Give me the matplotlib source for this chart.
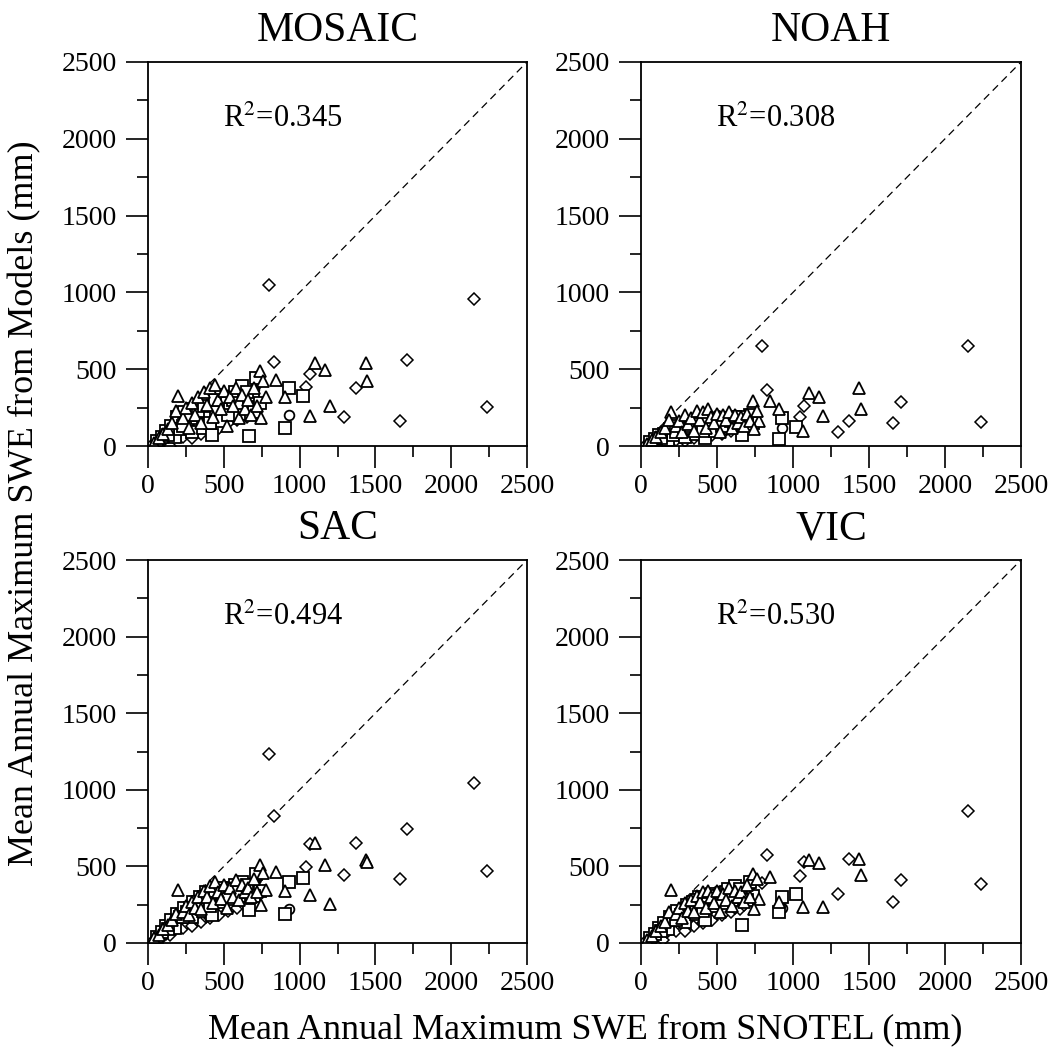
import matplotlib
matplotlib.use("Agg")
import matplotlib.pyplot as plt

plt.rcParams['font.family'] = ['Liberation Serif', 'DejaVu Serif']
plt.rcParams['mathtext.fontset'] = 'stix'

models = ['MOSAIC', 'NOAH', 'SAC', 'VIC']
r2_values = ['0.345', '0.308', '0.494', '0.530']

# SNOTEL mean annual max SWE (mm), one entry per station, grouped by marker
diamond_x = [796, 831, 1708, 1660, 2150, 2235, 1370, 1293, 1070, 1045,
             30, 80, 120, 145, 170, 200, 230, 260, 290, 320, 350, 380, 410, 440, 470, 500,
             530, 560, 590, 620, 650, 680]
triangle_x = [1104, 1170, 1436, 1447, 1199, 1066, 847, 906, 776, 737, 200,
              40, 70, 100, 130, 160, 185, 230, 250, 270, 290, 310, 330, 350, 370, 390, 410,
              430, 440, 460, 480, 500, 520, 540, 560, 580, 600, 620, 640, 660, 680, 700, 720,
              745, 760]
square_x = [906, 664, 1022, 928,
            60, 90, 120, 150, 175, 190, 210, 240, 260, 290, 300, 320, 345, 360, 380, 400,
            420, 450, 470, 490, 510, 540, 560, 575, 600, 620, 630, 660, 690, 715, 740,
            130, 230, 280, 330, 370, 410, 440, 530, 590, 650, 700]
circle_x = [928, 110, 160, 210, 250, 290, 330, 360, 400, 440, 480, 520, 560, 600, 640, 680, 715,
            140, 190, 230, 270, 310, 345, 380, 420, 460, 500, 540, 580, 620, 660, 700]

# model values (mm), same station order as above
diamond_y = {
    'MOSAIC': [1050, 549, 560, 161, 955, 256, 378, 187, 470, 382,
               10, 30, 50, 2, 70, 90, 60, 100, 50, 120, 80, 140, 100, 160, 120, 190,
               150, 210, 170, 240, 190, 260],
    'NOAH': [653, 365, 289, 148, 651, 158, 165, 89, 262, 187,
             5, 20, 30, 10, 40, 50, 40, 60, 30, 70, 50, 80, 60, 90, 70, 100,
             80, 110, 100, 120, 110, 130],
    'SAC': [1231, 830, 741, 421, 1043, 470, 656, 447, 645, 496,
            15, 40, 60, 50, 90, 110, 100, 130, 110, 150, 140, 170, 160, 190, 180, 220,
            210, 240, 230, 260, 250, 280],
    'VIC': [394, 573, 410, 268, 862, 384, 551, 323, 529, 436,
            10, 30, 50, 20, 70, 90, 80, 110, 80, 130, 110, 150, 130, 170, 150, 190,
            180, 210, 200, 230, 220, 250],
}
triangle_y = {
    'MOSAIC': [538, 495, 538, 425, 262, 197, 430, 317, 321, 490, 327,
               20, 50, 80, 110, 150, 230, 180, 250, 120, 280, 200, 320, 150, 350, 270, 380,
               190, 400, 300, 240, 360, 130, 320, 260, 380, 180, 330, 240, 300, 200, 380, 260,
               180, 420],
    'NOAH': [343, 321, 376, 241, 193, 100, 295, 241, 165, 295, 223,
             15, 40, 60, 90, 120, 170, 130, 160, 90, 200, 140, 180, 100, 230, 170, 220,
             120, 240, 190, 150, 210, 90, 200, 170, 220, 120, 200, 150, 190, 130, 210, 160,
             110, 230],
    'SAC': [650, 508, 540, 530, 253, 312, 464, 338, 344, 508, 344,
            30, 55, 90, 120, 150, 190, 200, 240, 180, 270, 230, 300, 220, 340, 300, 370,
            260, 400, 330, 290, 380, 230, 360, 300, 410, 280, 380, 330, 360, 300, 420, 330,
            250, 460],
    'VIC': [545, 519, 551, 442, 235, 235, 431, 268, 290, 453, 344,
            20, 45, 80, 110, 140, 200, 190, 230, 160, 260, 210, 280, 200, 310, 270, 330,
            230, 340, 300, 260, 340, 200, 320, 280, 360, 240, 340, 300, 330, 270, 380, 300,
            220, 420],
}
square_y = {
    'MOSAIC': [119, 63, 323, 380,
               30, 60, 100, 130, 60, 190, 110, 220, 160, 90, 240, 180, 270, 120, 300, 220,
               70, 230, 330, 160, 280, 240, 300, 350, 210, 390, 300, 250, 330, 440, 280,
               70, 130, 200, 230, 260, 150, 300, 200, 280, 350, 220],
    'NOAH': [46, 72, 122, 180,
             25, 45, 70, 80, 40, 110, 70, 130, 100, 60, 130, 110, 150, 80, 160, 140,
             50, 150, 170, 100, 160, 150, 170, 180, 130, 190, 170, 150, 180, 200, 150,
             50, 90, 120, 130, 140, 100, 170, 130, 160, 190, 140],
    'SAC': [192, 218, 425, 398,
            40, 70, 110, 150, 100, 190, 170, 230, 200, 170, 270, 240, 300, 210, 330, 290,
            180, 320, 360, 270, 340, 320, 360, 380, 310, 400, 350, 330, 370, 450, 340,
            90, 170, 230, 270, 300, 240, 340, 290, 330, 380, 310],
    'VIC': [202, 120, 323, 300,
            35, 60, 100, 130, 90, 170, 150, 210, 180, 140, 250, 210, 270, 190, 300, 260,
            150, 290, 320, 240, 310, 290, 330, 350, 280, 370, 320, 300, 340, 400, 310,
            80, 150, 210, 240, 280, 210, 310, 260, 300, 350, 280],
}
circle_y = {
    'MOSAIC': [202, 80, 120, 160, 200, 240, 140, 290, 250, 330, 200, 300, 350, 250, 340, 300, 404,
               100, 170, 150, 220, 260, 180, 320, 230, 280, 340, 260, 310, 360, 280, 370],
    'NOAH': [120, 60, 80, 100, 120, 140, 90, 170, 150, 180, 130, 170, 180, 150, 180, 160, 190,
             70, 110, 100, 130, 150, 110, 190, 140, 170, 200, 150, 180, 200, 160, 190],
    'SAC': [225, 90, 140, 190, 230, 260, 200, 310, 300, 350, 280, 340, 370, 310, 370, 340, 420,
            110, 180, 190, 240, 280, 230, 340, 290, 330, 370, 320, 350, 390, 330, 400],
    'VIC': [230, 80, 130, 170, 210, 240, 180, 290, 270, 320, 250, 310, 340, 290, 340, 310, 380,
            100, 170, 170, 220, 260, 210, 310, 270, 300, 340, 290, 320, 350, 310, 370],
}

fig = plt.figure(figsize=(10.58, 10.51), dpi=100)
W, H = 1058, 1051
boxes = [(148, 62, 527, 446), (641, 62, 1021, 446),
         (148, 560, 527, 943), (641, 560, 1021, 943)]

for i, name in enumerate(models):
    x0, y0, x1, y1 = boxes[i]
    ax = fig.add_axes([x0 / W, 1 - y1 / H, (x1 - x0) / W, (y1 - y0) / H])
    ax.plot([0, 2500], [0, 2500], color='black', lw=0.9, ls=(0, (6, 4)))
    ax.plot(diamond_x, diamond_y[name], 'D', ms=6, mfc='white', mec='black', mew=1.1)
    ax.plot(circle_x, circle_y[name], 'o', ms=7, mfc='white', mec='black', mew=1.3)
    ax.plot(square_x, square_y[name], 's', ms=8, mfc='white', mec='black', mew=1.3)
    ax.plot(triangle_x, triangle_y[name], '^', ms=9, mfc='white', mec='black', mew=1.3)
    ax.set_xlim(0, 2500)
    ax.set_ylim(0, 2500)
    ax.set_xticks(range(0, 2501, 500))
    ax.set_yticks(range(0, 2501, 500))
    ax.set_xticks(range(250, 2500, 500), minor=True)
    ax.set_yticks(range(250, 2500, 500), minor=True)
    ax.tick_params(which='major', direction='out', length=15.5, width=1.2, labelsize=20)
    ax.tick_params(which='minor', direction='out', length=8, width=1.2)
    ax.tick_params(axis='x', which='major', pad=5)
    ax.tick_params(axis='y', which='major', pad=7)
    for sp in ax.spines.values():
        sp.set_linewidth(1.3)
    ax.set_title(name, fontsize=30, pad=15)
    ax.text(493, 2077, r'R$^2$=' + r2_values[i], fontsize=22, va='baseline', ha='left')

fig.text(25 / W, 1 - 503 / H, 'Mean Annual Maximum SWE from Models (mm)',
         rotation=90, ha='center', va='center', fontsize=26)
fig.text(585 / W, 1 - 1030 / H, 'Mean Annual Maximum SWE from SNOTEL (mm)',
         ha='center', va='center', fontsize=26)

fig.savefig('out.png', dpi=100)
